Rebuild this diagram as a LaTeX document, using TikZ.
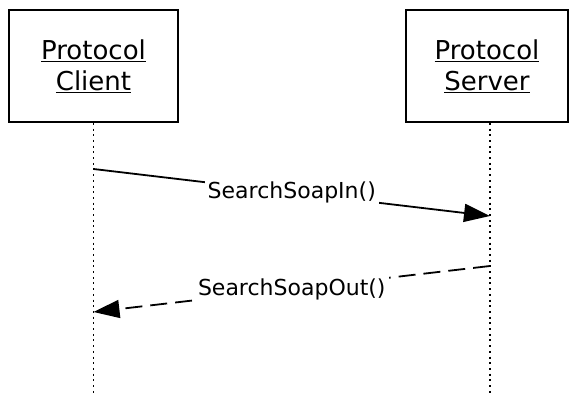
\documentclass[tikz,border=0pt]{standalone}
\usepackage{fontspec}
\setmainfont{DejaVu Sans}
\usetikzlibrary{arrows.meta}
\tikzset{
  actor/.style={draw,line width=1.8pt,minimum width=162pt,minimum height=112pt,align=center,
    font=\fontsize{26}{31}\selectfont},
  lifeline/.style={line width=1.8pt,dash pattern=on 2pt off 3.7pt},
  msg/.style={line width=1.8pt,-{Triangle[length=26pt,width=18pt]}},
  reply/.style={msg,dash pattern=on 17pt off 8pt},
  msglabel/.style={fill=white,inner sep=3pt,font=\fontsize{22}{26}\selectfont}
}

\begin{document}
\begin{tikzpicture}[x=1pt,y=1pt]
        \useasboundingbox (0,0) rectangle (569,395);
        \node[actor,minimum width=169pt] (client) at (93.5,329) {\underline{Protocol}\\\underline{Client}};
        \node[actor] (server) at (487,329) {\underline{Protocol}\\\underline{Server}};
        % lifelines
        \coordinate (cbot) at (client.south |- 0,2);
        \coordinate (stop) at ([xshift=3pt]server.south);
        \coordinate (sbot) at (stop |- 0,2);
        \draw[lifeline] (client.south) -- (cbot);
        \draw[lifeline] (stop) -- (sbot);
        % messages
        \coordinate (in1) at (client.south |- 0,226);
        \coordinate (in2) at (stop |- 0,179);
        \coordinate (out1) at (stop |- 0,129);
        \coordinate (out2) at (client.south |- 0,83);
        \draw[msg] (in1) -- (in2) node[midway,msglabel] (inlabel) {SearchSoapIn()};
        \draw[reply] (out1) -- (out2) node[midway,msglabel] (outlabel) {SearchSoapOut()};
      \end{tikzpicture}
\end{document}
